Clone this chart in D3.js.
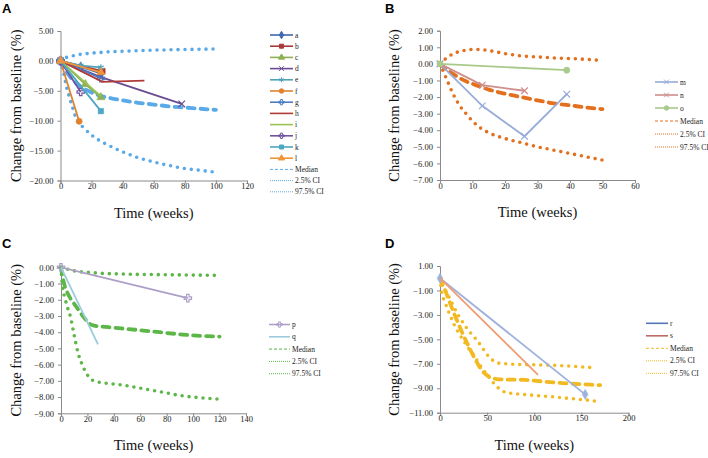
<!DOCTYPE html>
<html><head><meta charset="utf-8">
<script src="https://cdn.jsdelivr.net/npm/d3@7"></script>
<style>body{margin:0;background:#fff;}svg{display:block;}</style>
</head><body>
<svg id="chart" width="708" height="458"></svg>
<script>
// ---------------- DATA ----------------
// Panel A
const A_names  = ["a","b","c","d","e","f","g","h","i","j","k","l"];
const A_colors = ["#3F68B0","#A8393A","#8DB055","#6A4C93","#4FA3B8","#E0822F","#4A7DC4","#B03A38","#9CC356","#7153A0","#4DA6C5","#F0953A"];
const A_markers= ["diamond","square","triangle","cross","star","circle","plus","none","none","plus","square","triangle"];
const A_points = [
  [[0,0],[13,-1.0],[26,-2.1]],
  [[0,0],[27,-1.7]],
  [[0,0],[16,-3.9],[26,-6.1]],
  [[0,0],[26,-2.7],[78,-7.2]],
  [[0,0],[13,-0.8],[26,-1.1]],
  [[0,0],[12,-10.1]],
  [[0,0],[26,-2.9]],
  [[0,0],[27,-3.5],[54,-3.3]],
  [[0,0],[26,-5.9]],
  [[0,0],[13,-5.2]],
  [[0,0],[26,-8.4]],
  [[0,0],[26,-1.9]]
];
const A_ciWeeks  = [0,2,4,6,8,10,15,20,25,30,40,50,60,70,80,90,100];
const A_median   = [0,-1.0,-1.9,-2.6,-3.2,-3.7,-4.6,-5.3,-5.8,-6.1,-6.6,-7.0,-7.3,-7.6,-7.8,-8.0,-8.2];
const A_ci025    = [0,-2.0,-4.5,-6.3,-8.0,-9.6,-11.2,-12.4,-13.3,-14.0,-15.2,-16.2,-16.9,-17.5,-18.0,-18.3,-18.6];
const A_ci975    = [0,0.35,0.6,0.75,0.85,1.0,1.15,1.3,1.4,1.5,1.6,1.7,1.8,1.85,1.9,1.95,2.0];
const A_xTicks   = [0,20,40,60,80,100,120];
const A_yTicks   = [5,0,-5,-10,-15,-20];

// Panel B
const B_names  = ["m","n","o"];
const B_colors = ["#97ACDA","#CF8E8C","#A9CA8A"];
const B_markers= ["cross","cross","circle"];
const B_points = [
  [[0,0],[13,-2.53],[26,-4.36],[39,-1.83]],
  [[0,0],[13,-1.28],[26,-1.62]],
  [[0,0],[39,-0.38]]
];
const B_ciWeeks = [0,2,4,6,8,10,12,15,20,25,30,35,40,45,50];
const B_median  = [0,-0.35,-0.6,-0.85,-1.05,-1.2,-1.35,-1.55,-1.8,-2.0,-2.2,-2.38,-2.5,-2.63,-2.73];
const B_ci025   = [0,-0.9,-1.8,-2.5,-3.0,-3.45,-3.8,-4.15,-4.5,-4.75,-5.0,-5.2,-5.4,-5.6,-5.8];
const B_ci975   = [0,0.35,0.6,0.75,0.83,0.87,0.87,0.8,0.62,0.48,0.42,0.36,0.32,0.27,0.2];
const B_xTicks  = [0,10,20,30,40,50,60];
const B_yTicks  = [2,1,0,-1,-2,-3,-4,-5,-6,-7];

// Panel C
const C_names  = ["p","q"];
const C_colors = ["#ADA0C8","#9BCBDD"];
const C_markers= ["plus","none"];
const C_points = [
  [[0,0],[96,-1.9]],
  [[0,0],[28,-4.75]]
];
const C_ciWeeks = [0,1,3,5,7,10,13,16,19,22,25,30,40,50,60,70,80,90,100,110,120];
const C_median  = [0,-0.5,-1.2,-1.6,-1.9,-2.25,-2.6,-2.95,-3.25,-3.5,-3.6,-3.65,-3.72,-3.8,-3.88,-3.96,-4.05,-4.13,-4.2,-4.24,-4.27];
const C_ci025   = [0,-1.1,-1.9,-2.5,-3.0,-4.2,-5.3,-6.0,-6.5,-6.85,-7.0,-7.1,-7.2,-7.3,-7.45,-7.6,-7.75,-7.9,-8.0,-8.07,-8.13];
const C_ci975   = [0,-0.05,-0.08,-0.12,-0.16,-0.22,-0.26,-0.29,-0.31,-0.32,-0.34,-0.37,-0.4,-0.42,-0.44,-0.45,-0.46,-0.47,-0.48,-0.49,-0.5];
const C_xTicks  = [0,20,40,60,80,100,120,140];
const C_yTicks  = [0,-1,-2,-3,-4,-5,-6,-7,-8,-9];

// Panel D
const D_names  = ["r","s"];
const D_colors = ["#9FB2DC","#EE9C72"];
const D_legendColors = ["#5575BA","#BF6A66"];
const D_markers= ["diamond","none"];
const D_legendMarkers = ["none","none"];
const D_points = [
  [[0,0],[154,-9.5]],
  [[0,0],[104,-7.9]]
];
const D_ciWeeks = [0,2,5,10,15,20,25,30,35,40,45,50,55,60,65,70,80,90,100,110,120,130,140,150,160,165,170];
const D_median  = [0,-0.4,-0.9,-1.9,-2.9,-3.8,-4.7,-5.5,-6.3,-7.0,-7.6,-7.95,-8.15,-8.25,-8.28,-8.3,-8.3,-8.32,-8.38,-8.45,-8.52,-8.58,-8.63,-8.67,-8.71,-8.73,-8.75];
const D_ci025   = [0,-1.2,-1.9,-2.9,-3.8,-4.5,-5.1,-5.7,-6.2,-6.8,-7.4,-7.9,-8.4,-8.85,-9.15,-9.35,-9.45,-9.52,-9.58,-9.64,-9.7,-9.78,-9.85,-9.93,-10.0,-10.05,null];
const D_ci975   = [0,-0.5,-0.9,-1.6,-2.4,-3.1,-3.7,-4.25,-4.7,-5.15,-5.7,-6.25,-6.65,-6.9,-6.97,-7.0,-7.05,-7.07,-7.08,-7.1,-7.12,-7.16,-7.2,-7.25,-7.3,-7.33,null];
const D_xTicks  = [0,50,100,150,200];
const D_yTicks  = [1,-1,-3,-5,-7,-9,-11];

// ---------------- DRAW ----------------
const svg = d3.select("#chart");
const serif = "'Liberation Serif','Times New Roman',serif";
const fmt = d3.format(".2f");

function markerPath(type, size){
  const m = {diamond:d3.symbolDiamond, square:d3.symbolSquare, triangle:d3.symbolTriangle,
             circle:d3.symbolCircle, cross:d3.symbolX, plus:d3.symbolCross, star:d3.symbolAsterisk};
  if(!m[type]) return null;
  return d3.symbol().type(m[type]).size(size)();
}
function strokeOnly(type){ return type==="cross"||type==="plus"||type==="star"; }

function drawPanel(cfg){
  const g = svg.append("g");
  const x = d3.scaleLinear().domain(cfg.xDomain).range(cfg.xRange);
  const y = d3.scaleLinear().domain(cfg.yDomain).range(cfg.yRange);

  svg.append("text").attr("x",cfg.letterPos[0]).attr("y",cfg.letterPos[1])
    .attr("font-family","'Liberation Sans',Arial,sans-serif").attr("font-weight","bold")
    .attr("font-size",13).text(cfg.letter);

  const xAxis = d3.axisBottom(x).tickValues(cfg.xTicks).tickSize(3).tickFormat(d3.format("d"));
  const yAxis = d3.axisLeft(y).tickValues(cfg.yTicks).tickSize(3).tickFormat(fmt);
  const gx = g.append("g").attr("transform",`translate(0,${cfg.yRange[0]})`).call(xAxis);
  const gy = g.append("g").attr("transform",`translate(${cfg.xRange[0]},0)`).call(yAxis);
  [gx,gy].forEach(a=>{
    a.attr("font-family",serif);
    a.selectAll("path,line").attr("stroke","#8a8a8a");
    a.selectAll("text").attr("font-family",serif).attr("font-size",8.5).attr("fill","#222");
  });
  gx.selectAll("text").attr("dy","0.2em").attr("y",7);
  gy.selectAll("text").attr("x",-7);

  svg.append("text").attr("x",(cfg.xRange[0]+cfg.xRange[1])/2).attr("y",cfg.yRange[0]+37)
    .attr("text-anchor","middle").attr("font-family",serif).attr("font-size",14.5).attr("fill","#111").text("Time (weeks)");
  svg.append("text").attr("transform",`translate(${cfg.yTitleX},${(cfg.yRange[0]+cfg.yRange[1])/2}) rotate(-90)`)
    .attr("text-anchor","middle").attr("font-family",serif).attr("font-size",14.5).attr("fill","#111").text("Change from baseline (%)");

  const line = d3.line().defined(d=>d[1]!=null).x(d=>x(d[0])).y(d=>y(d[1]));
  const ciLine = d3.line().defined(d=>d[1]!=null).curve(d3.curveMonotoneX).x(d=>x(d[0])).y(d=>y(d[1]));
  const toPairs = (w,v)=>w.map((d,i)=>[d,v[i]]);

  [cfg.ci975,cfg.ci025].forEach(vals=>{
    g.append("path").datum(toPairs(cfg.ciWeeks,vals)).attr("d",ciLine)
      .attr("fill","none").attr("stroke",cfg.ciColor).attr("stroke-width",3.6)
      .attr("stroke-linecap","round").attr("stroke-dasharray","0,7");
  });
  g.append("path").datum(toPairs(cfg.ciWeeks,cfg.median)).attr("d",ciLine)
    .attr("fill","none").attr("stroke",cfg.ciColor).attr("stroke-width",3.8)
    .attr("stroke-linecap","round").attr("stroke-dasharray","7,6");

  cfg.names.forEach((n,i)=>{
    const pts = cfg.points[i];
    g.append("path").datum(pts).attr("d",line).attr("fill","none")
      .attr("stroke",cfg.colors[i]).attr("stroke-width",1.8);
    const mp = markerPath(cfg.markers[i], cfg.markerSize);
    if(mp){
      g.selectAll(null).data(pts).enter().append("path").attr("d",mp)
        .attr("transform",d=>`translate(${x(d[0])},${y(d[1])})`)
        .attr("fill",strokeOnly(cfg.markers[i])?"none":cfg.colors[i])
        .attr("stroke",cfg.colors[i]).attr("stroke-width",strokeOnly(cfg.markers[i])?1.2:0.5);
    }
  });

  const lg = svg.append("g");
  const legCols = cfg.legendColors || cfg.colors;
  const legMarks = cfg.legendMarkers || cfg.markers;
  const items = cfg.names.map((n,i)=>({label:n,color:legCols[i],marker:legMarks[i],dash:null}))
    .concat([{label:"Median",color:cfg.ciColor,marker:"none",dash:"3,2"},
             {label:"2.5% CI",color:cfg.ciColor,marker:"none",dash:"1,1"},
             {label:"97.5% CI",color:cfg.ciColor,marker:"none",dash:"1,1"}]);
  items.forEach((it,i)=>{
    const yy = cfg.legY + i*cfg.legStep;
    lg.append("line").attr("x1",cfg.legX).attr("x2",cfg.legX+cfg.legLen).attr("y1",yy).attr("y2",yy)
      .attr("stroke",it.color).attr("stroke-width",it.dash?1:1.6).attr("stroke-dasharray",it.dash);
    const mp = markerPath(it.marker, 16);
    if(mp){
      lg.append("path").attr("d",mp).attr("transform",`translate(${cfg.legX+cfg.legLen/2},${yy})`)
        .attr("fill",strokeOnly(it.marker)?"none":it.color).attr("stroke",it.color).attr("stroke-width",1);
    }
    lg.append("text").attr("x",cfg.legX+cfg.legLen+2).attr("y",yy+2.5)
      .attr("font-family",serif).attr("font-size",7.5).attr("fill","#222").text(it.label);
  });
}

drawPanel({letter:"A",letterPos:[2,13],xDomain:[0,120],yDomain:[-20,5],xRange:[60.5,247],yRange:[180.5,31],
  xTicks:A_xTicks,yTicks:A_yTicks,names:A_names,colors:A_colors,markers:A_markers,points:A_points,
  ciWeeks:A_ciWeeks,median:A_median,ci025:A_ci025,ci975:A_ci975,ciColor:"#5AAAE8",markerSize:30,
  yTitleX:21,legX:270,legY:35,legStep:11.2,legLen:23});
drawPanel({letter:"B",letterPos:[385,13],xDomain:[0,60],yDomain:[-7,2],xRange:[440,635],yRange:[180,30.7],
  xTicks:B_xTicks,yTicks:B_yTicks,names:B_names,colors:B_colors,markers:B_markers,points:B_points,
  ciWeeks:B_ciWeeks,median:B_median,ci025:B_ci025,ci975:B_ci975,ciColor:"#E2701E",markerSize:30,
  yTitleX:399,legX:655,legY:82,legStep:13,legLen:23});
drawPanel({letter:"C",letterPos:[2,248],xDomain:[0,140],yDomain:[-9,0],xRange:[61,246],yRange:[413.3,267.3],
  xTicks:C_xTicks,yTicks:C_yTicks,names:C_names,colors:C_colors,markers:C_markers,points:C_points,
  ciWeeks:C_ciWeeks,median:C_median,ci025:C_ci025,ci975:C_ci975,ciColor:"#5DB648",markerSize:30,
  yTitleX:21,legX:269,legY:324.5,legStep:12.3,legLen:21});
drawPanel({letter:"D",letterPos:[385,248],xDomain:[0,200],yDomain:[-11,1],xRange:[440,628.5],yRange:[412.7,266],
  xTicks:D_xTicks,yTicks:D_yTicks,names:D_names,colors:D_colors,legendColors:D_legendColors,legendMarkers:D_legendMarkers,
  markers:D_markers,points:D_points,
  ciWeeks:D_ciWeeks,median:D_median,ci025:D_ci025,ci975:D_ci975,ciColor:"#F2BA22",markerSize:30,
  yTitleX:399,legX:646,legY:323.3,legStep:12.5,legLen:22});
</script>
</body></html>
